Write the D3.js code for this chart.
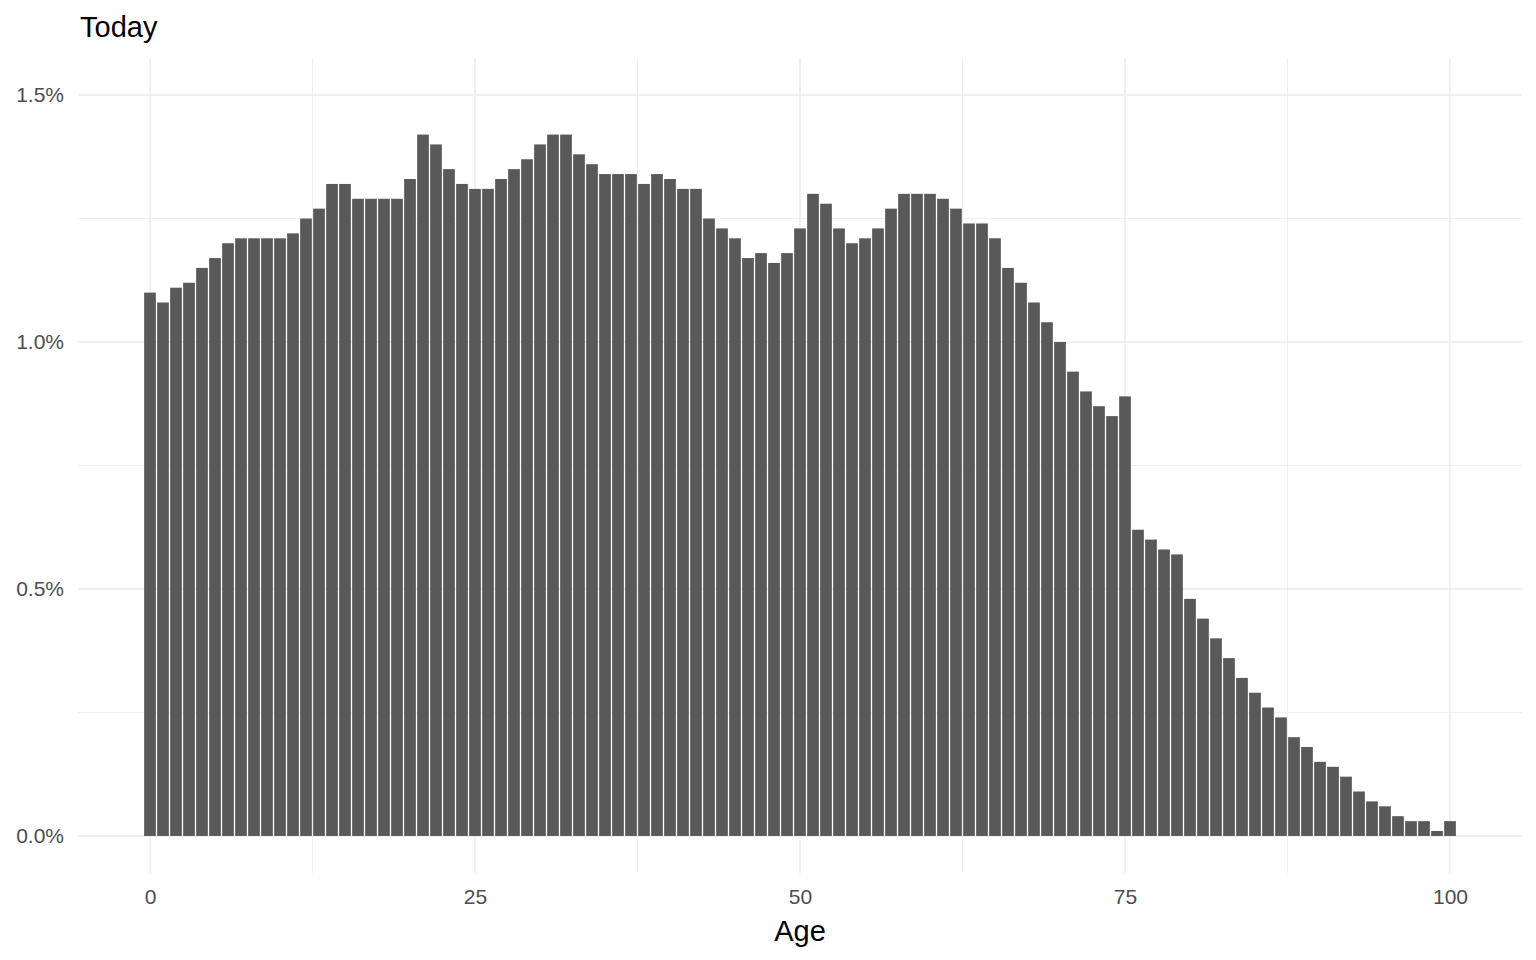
<!DOCTYPE html>
<html>
<head>
<meta charset="utf-8">
<script src="https://cdn.jsdelivr.net/npm/d3@7"></script>
<style>
  body { margin: 0; background: #fff; }
  svg { display: block; font-family: "Liberation Sans", Arial, sans-serif; }
</style>
</head>
<body>
<div id="graph"></div>
<script>
const width = 1536,
    height = 960,
    panelLeft = 78.5,   // panel edges
    panelRight = 1521.5,
    panelTop = 58,
    panelBottom = 873;

// share of population by single year of age (percent)
const ages = d3.range(0, 101);
const shares = [
  1.10, 1.08, 1.11, 1.12, 1.15, 1.17, 1.20, 1.21, 1.21, 1.21,
  1.21, 1.22, 1.25, 1.27, 1.32, 1.32, 1.29, 1.29, 1.29, 1.29,
  1.33, 1.42, 1.40, 1.35, 1.32, 1.31, 1.31, 1.33, 1.35, 1.37,
  1.40, 1.42, 1.42, 1.38, 1.36, 1.34, 1.34, 1.34, 1.32, 1.34,
  1.33, 1.31, 1.31, 1.25, 1.23, 1.21, 1.17, 1.18, 1.16, 1.18,
  1.23, 1.30, 1.28, 1.23, 1.20, 1.21, 1.23, 1.27, 1.30, 1.30,
  1.30, 1.29, 1.27, 1.24, 1.24, 1.21, 1.15, 1.12, 1.08, 1.04,
  1.00, 0.94, 0.90, 0.87, 0.85, 0.89, 0.62, 0.60, 0.58, 0.57,
  0.48, 0.44, 0.40, 0.36, 0.32, 0.29, 0.26, 0.24, 0.20, 0.18,
  0.15, 0.14, 0.12, 0.09, 0.07, 0.06, 0.04, 0.03, 0.03, 0.01,
  0.03
];
const xTicks = [0, 25, 50, 75, 100];
const xMinor = [12.5, 37.5, 62.5, 87.5];
const yTicks = [0, 0.5, 1.0, 1.5];
const yMinor = [0.25, 0.75, 1.25];

const data = ages.map((a, i) => ({ age: a, share: shares[i] }));

const x = d3.scaleLinear().domain([-5.5, 105.5]).range([panelLeft, panelRight]);
const y = d3.scaleLinear().domain([-0.075, 1.575]).range([panelBottom, panelTop]);

const svg = d3.select("#graph")
    .append("svg")
    .attr("width", width)
    .attr("height", height);

const grid = svg.append("g");

grid.selectAll(".ymin").data(yMinor).enter().append("line")
    .attr("x1", panelLeft).attr("x2", panelRight)
    .attr("y1", d => y(d)).attr("y2", d => y(d))
    .attr("stroke", "#ebebeb").attr("stroke-width", 0.8);
grid.selectAll(".xmin").data(xMinor).enter().append("line")
    .attr("y1", panelTop).attr("y2", panelBottom)
    .attr("x1", d => x(d)).attr("x2", d => x(d))
    .attr("stroke", "#ebebeb").attr("stroke-width", 0.8);
grid.selectAll(".ymaj").data(yTicks).enter().append("line")
    .attr("x1", panelLeft).attr("x2", panelRight)
    .attr("y1", d => y(d)).attr("y2", d => y(d))
    .attr("stroke", "#ebebeb").attr("stroke-width", 1.6);
grid.selectAll(".xmaj").data(xTicks).enter().append("line")
    .attr("y1", panelTop).attr("y2", panelBottom)
    .attr("x1", d => x(d)).attr("x2", d => x(d))
    .attr("stroke", "#ebebeb").attr("stroke-width", 1.6);

const bw = x(0.9) - x(0);
svg.selectAll("rect.bar")
    .data(data)
    .enter()
    .append("rect")
    .attr("class", "bar")
    .attr("x", d => x(d.age) - bw / 2)
    .attr("width", bw)
    .attr("y", d => y(d.share))
    .attr("height", d => y(0) - y(d.share))
    .attr("fill", "#595959");

// axes (ggplot minimal: no lines, just labels)
const xAxis = d3.axisBottom(x).tickValues(xTicks).tickSize(0).tickPadding(16);
const yAxis = d3.axisLeft(y).tickValues(yTicks).tickSize(0).tickPadding(14.5)
    .tickFormat(d => d.toFixed(1) + "%");

svg.append("g")
    .attr("transform", "translate(0," + panelBottom + ")")
    .call(xAxis)
    .call(g => g.select(".domain").remove())
    .selectAll("text")
    .attr("font-size", 21).attr("fill", "#4d4d4d")
    .attr("font-family", "Liberation Sans, Arial, sans-serif");

svg.append("g")
    .attr("transform", "translate(" + panelLeft + ",0)")
    .call(yAxis)
    .call(g => g.select(".domain").remove())
    .selectAll("text")
    .attr("font-size", 21).attr("fill", "#4d4d4d")
    .attr("font-family", "Liberation Sans, Arial, sans-serif");

svg.append("text")
    .attr("x", 800)
    .attr("y", 941)
    .attr("text-anchor", "middle")
    .attr("font-size", 29)
    .attr("fill", "#000")
    .text("Age");

svg.append("text")
    .attr("x", 80)
    .attr("y", 37)
    .attr("font-size", 29)
    .attr("fill", "#000")
    .text("Today");
</script>
</body>
</html>
